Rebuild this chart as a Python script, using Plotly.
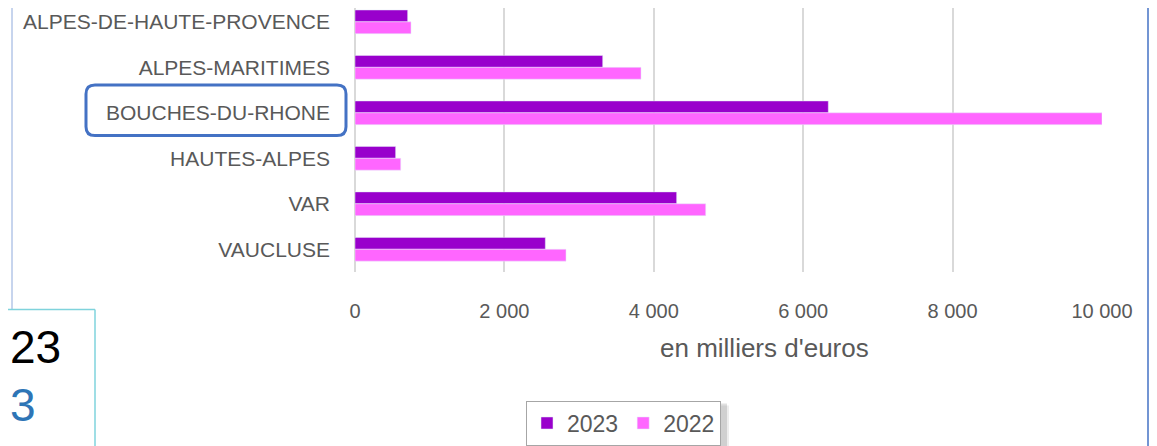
import plotly.graph_objects as go

departements = ["ALPES-DE-HAUTE-PROVENCE", "ALPES-MARITIMES", "BOUCHES-DU-RHONE",
                "HAUTES-ALPES", "VAR", "VAUCLUSE"]
valeurs_2023 = [705, 3316, 6336, 544, 4306, 2548]
valeurs_2022 = [750, 3829, 10000, 612, 4695, 2825]
x_ticks = [0, 2000, 4000, 6000, 8000, 10000]
x_tick_labels = ["0", "2 000", "4 000", "6 000", "8 000", "10 000"]

# The page has an 8px body margin: design in page pixels and convert.
OFF = 8
W, H = 1157 - OFF, 446 - OFF
L, R, T, B = 347, 1094, 0, 267          # plot area in figure pixels
PW, PH = R - L, B - T


def fx(page_x):
    return (page_x - OFF - L) / PW


def fy(page_y):
    return (B - (page_y - OFF)) / PH


FONT = "Liberation Sans, Arial, sans-serif"
GREY = "#595959"

fig = go.Figure()
fig.add_trace(go.Bar(y=departements, x=valeurs_2023, name="2023", orientation="h",
                     marker=dict(color="#9900CC")))
fig.add_trace(go.Bar(y=departements, x=valeurs_2022, name="2022", orientation="h",
                     marker=dict(color="#FF66FF")))


def rounded_rect(x1, y1, x2, y2, r):
    def P(px, py):
        return f"{fx(px):.5f},{fy(py):.5f}"
    pts = ["M" + P(x1 + r, y1),
           "L" + P(x2 - r, y1),
           "Q" + P(x2, y1) + " " + P(x2, y1 + r),
           "L" + P(x2, y2 - r),
           "Q" + P(x2, y2) + " " + P(x2 - r, y2),
           "L" + P(x1 + r, y2),
           "Q" + P(x1, y2) + " " + P(x1, y2 - r),
           "L" + P(x1, y1 + r),
           "Q" + P(x1, y1) + " " + P(x1 + r, y1),
           "Z"]
    return " ".join(pts)


shapes = [
    # highlight box around BOUCHES-DU-RHONE
    dict(type="path", xref="paper", yref="paper", path=rounded_rect(86, 86, 346, 137, 9),
         line=dict(color="#4472C4", width=3), fillcolor="rgba(0,0,0,0)"),
    # legend shadow (soft)
    dict(type="rect", xref="paper", yref="paper", x0=fx(531), x1=fx(729), y0=fy(410), y1=fy(470),
         line=dict(width=0), fillcolor="rgba(0,0,0,0.07)"),
    dict(type="rect", xref="paper", yref="paper", x0=fx(529), x1=fx(727), y0=fy(408), y1=fy(470),
         line=dict(width=0), fillcolor="rgba(0,0,0,0.12)"),
    # left thin border
    dict(type="line", xref="paper", yref="paper", x0=fx(12), x1=fx(12), y0=fy(0), y1=fy(313),
         line=dict(color="#8FAADC", width=1)),
    # right border
    dict(type="line", xref="paper", yref="paper", x0=fx(1148), x1=fx(1148), y0=fy(0), y1=fy(460),
         line=dict(color="#4472C4", width=1.5)),
    # cyan box at bottom-left
    dict(type="line", xref="paper", yref="paper", x0=fx(0), x1=fx(95), y0=fy(313), y1=fy(313),
         line=dict(color="#7FD3DC", width=1.5)),
    dict(type="line", xref="paper", yref="paper", x0=fx(95), x1=fx(95), y0=fy(313), y1=fy(460),
         line=dict(color="#7FD3DC", width=1.5)),
]

annotations = [
    dict(text="en milliers d'euros", xref="paper", yref="paper", x=fx(764), y=fy(352),
         xanchor="center", yanchor="middle", showarrow=False,
         font=dict(family=FONT, size=26, color=GREY)),
    dict(text="23", xref="paper", yref="paper", x=fx(8), y=fy(351),
         xanchor="left", yanchor="middle", showarrow=False,
         font=dict(family=FONT, size=46, color="#000000")),
    dict(text="3", xref="paper", yref="paper", x=fx(8), y=fy(410),
         xanchor="left", yanchor="middle", showarrow=False,
         font=dict(family=FONT, size=46, color="#2E75B6")),
]

fig.update_layout(
    width=W, height=H,
    margin=dict(l=L, r=W - R, t=T, b=H - B, pad=0),
    paper_bgcolor="white", plot_bgcolor="white",
    barmode="group", bargap=0.478, bargroupgap=0,
    font=dict(family=FONT, color=GREY),
    showlegend=True,
    legend=dict(orientation="h", x=fx(526), y=fy(405), xanchor="left", yanchor="top",
                bordercolor="#A6A6A6", borderwidth=1, bgcolor="white",
                traceorder="normal", font=dict(family=FONT, size=23, color=GREY)),
    shapes=shapes,
    annotations=annotations,
    xaxis=dict(range=[0, 10000], tickvals=x_ticks, ticktext=x_tick_labels,
               showgrid=True, gridcolor="#D9D9D9", gridwidth=1.5,
               zeroline=True, zerolinecolor="#D9D9D9", zerolinewidth=1.5,
               showline=False, ticks="", ticklabelstandoff=25,
               tickfont=dict(family=FONT, size=20, color=GREY)),
    yaxis=dict(range=[5.5, -14 / 46], showgrid=False, zeroline=False, showline=False,
               ticks="", ticklabelstandoff=24,
               tickfont=dict(family=FONT, size=21, color=GREY)),
)

fig.write_html("out.html")
